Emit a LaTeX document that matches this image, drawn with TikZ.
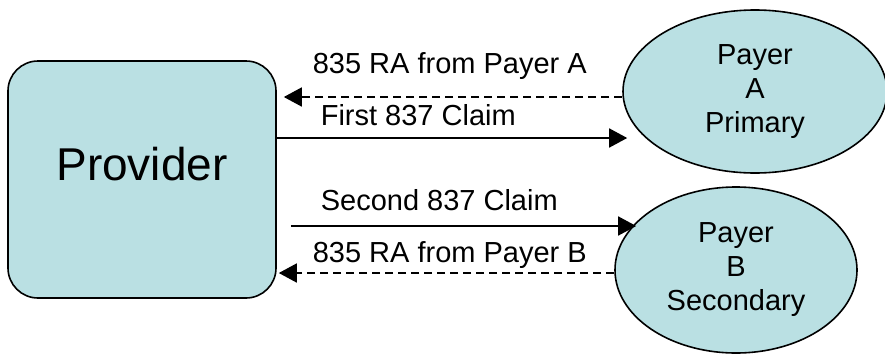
\documentclass[tikz,border=0pt]{standalone}
\usepackage{fontspec}
\setmainfont{Liberation Sans}
\usetikzlibrary{arrows.meta,shapes.geometric}
\definecolor{payerblue}{RGB}{186,224,227}

\begin{document}
\begin{tikzpicture}[%
    x=1pt, y=-1pt, line width=1.6pt,
    party/.style={draw, fill=payerblue, inner sep=0pt},
    payer/.style={party, ellipse, align=center, font=\fontsize{29}{34}\selectfont},
    msg/.style={-{Triangle[length=18pt,width=19pt]}},
    reply/.style={msg, dash pattern=on 8pt off 5pt},
    lbl/.style={anchor=base west, inner sep=0pt, font=\fontsize{29}{34}\selectfont}]
    \useasboundingbox (0,0) rectangle (885,354);
    % parties
    \node [party, rounded corners=30pt, minimum width=268pt, minimum height=237pt,
      text height=33pt, text depth=32pt, font=\fontsize{46}{55}\selectfont]
      (provider) at (142,179.5) {Provider};
    \node [payer, minimum width=264pt, minimum height=163pt] (payerA) at (755,91.5) {Payer\\A\\Primary};
    \node [payer, minimum width=242pt, minimum height=166pt] (payerB) at (736,270) {Payer\\B\\Secondary};
    % messages
    \node [lbl] (raA) at (312,73) {835 RA from Payer A};
    \node [lbl] (claimA) at (320,125) {First 837 Claim};
    \node [lbl] (claimB) at (320,210) {Second 837 Claim};
    \node [lbl] (raB) at (312,262) {835 RA from Payer B};
    \draw [reply, shorten >=7pt] (payerA.west |- 0,97) -- (provider.east |- 0,97);
    \draw [msg, shorten >=-5pt] (provider.east |- 0,138) -- (payerA.west |- 0,138);
    \draw [msg, shorten <=14pt, shorten >=-22pt] (provider.east |- 0,226) -- (payerB.west |- 0,226);
    \draw [reply, shorten >=2pt] (payerB.west |- 0,273) -- (provider.east |- 0,273);
\end{tikzpicture}
\end{document}
